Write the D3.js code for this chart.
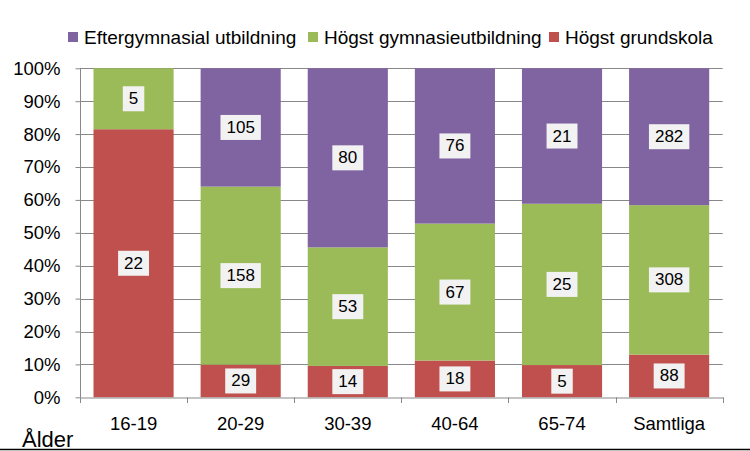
<!DOCTYPE html>
<html><head><meta charset="utf-8">
<script src="https://cdn.jsdelivr.net/npm/d3@7"></script>
<style>body{margin:0;background:#fff}svg{display:block;font-family:"Liberation Sans",Arial,sans-serif}</style>
</head><body><svg id="c" width="750" height="451"></svg>
<script>
const categories = ["16-19","20-29","30-39","40-64","65-74","Samtliga"];
const seriesNames = ["Högst grundskola","Högst gymnasieutbildning","Eftergymnasial utbildning"];
const grundskola = [22,29,14,18,5,88];
const gymnasie = [5,158,53,67,25,308];
const eftergymnasial = [0,105,80,76,21,282];
const yTicks = [0,0.1,0.2,0.3,0.4,0.5,0.6,0.7,0.8,0.9,1];
const colors = ["#C0504D","#9BBB59","#8064A2"];
const axisTitle = "Ålder";
const FONT = "'Liberation Sans',Arial,sans-serif";

const svg = d3.select("#c");
const x = d3.scaleBand().domain(categories).range([80,722.7]).paddingInner(0.252).paddingOuter(0.126);
const y = d3.scaleLinear().domain([0,1]).range([397.3,68.3]);

svg.append("g").selectAll("line").data(yTicks.slice(1)).join("line")
  .attr("x1",80).attr("x2",722.7).attr("y1",d=>Math.round(y(d))+0.5).attr("y2",d=>Math.round(y(d))+0.5)
  .attr("stroke","#888").attr("stroke-width",1);

const rows = categories.map((c,i)=>({cat:c, vals:[grundskola[i],gymnasie[i],eftergymnasial[i]]}));
const segs = [];
rows.forEach(r=>{
  const tot = d3.sum(r.vals); let acc=0;
  r.vals.forEach((v,k)=>{ segs.push({cat:r.cat,k,v,y0:acc/tot,y1:(acc+v)/tot}); acc+=v; });
});
svg.append("g").selectAll("rect").data(segs.filter(s=>s.v>0)).join("rect")
  .attr("x",d=>x(d.cat)).attr("width",x.bandwidth())
  .attr("y",d=>y(d.y1)).attr("height",d=>y(d.y0)-y(d.y1)).attr("fill",d=>colors[d.k]);

const yAxis = svg.append("g").attr("transform","translate(80.5,0)")
  .call(d3.axisLeft(y).tickValues(yTicks).tickFormat(d3.format(".0%")).tickSize(5).tickPadding(15));
const xAxis = svg.append("g").attr("transform","translate(0,397.5)")
  .call(d3.axisBottom(x).tickSize(0).tickPadding(19));
[yAxis,xAxis].forEach(g=>{g.selectAll("path,line").attr("stroke","#888");g.selectAll("text").attr("font-size",18.5).attr("fill","#000").attr("font-family",FONT);});
yAxis.select(".domain").attr("d","M0,68.3V397.3");
svg.append("g").selectAll("line").data(d3.range(categories.length+1)).join("line")
  .attr("x1",i=>Math.round(80+i*x.step())+0.5).attr("x2",i=>Math.round(80+i*x.step())+0.5)
  .attr("y1",397.3).attr("y2",403).attr("stroke","#888");

const lg = svg.append("g");
segs.filter(s=>s.v>0).forEach(s=>{
  const cx = x(s.cat)+x.bandwidth()/2, cy=(y(s.y0)+y(s.y1))/2;
  const g = lg.append("g");
  const t = g.append("text").attr("x",cx).attr("y",cy).attr("text-anchor","middle").attr("dominant-baseline","central")
    .attr("font-size",17).attr("fill","#000").text(s.v);
  const w = t.node().getComputedTextLength()+12;
  g.insert("rect","text").attr("x",cx-w/2).attr("y",cy-12.5).attr("width",w).attr("height",25).attr("fill","#f2f2f2");
});

const legendOrder = [2,1,0];
const legendX = [68,308,549];
legendOrder.forEach((k,i)=>{
  svg.append("rect").attr("x",legendX[i]).attr("y",32).attr("width",10).attr("height",10).attr("fill",colors[k]);
  svg.append("text").attr("x",legendX[i]+16).attr("y",37).attr("dominant-baseline","central").attr("font-size",19).text(seriesNames[k]);
});

svg.append("text").attr("x",22).attr("y",447).attr("font-size",22).text(axisTitle);
svg.append("line").attr("x1",0).attr("x2",750).attr("y1",449.5).attr("y2",449.5).attr("stroke","#000").attr("stroke-width",1.5);
</script></body></html>
